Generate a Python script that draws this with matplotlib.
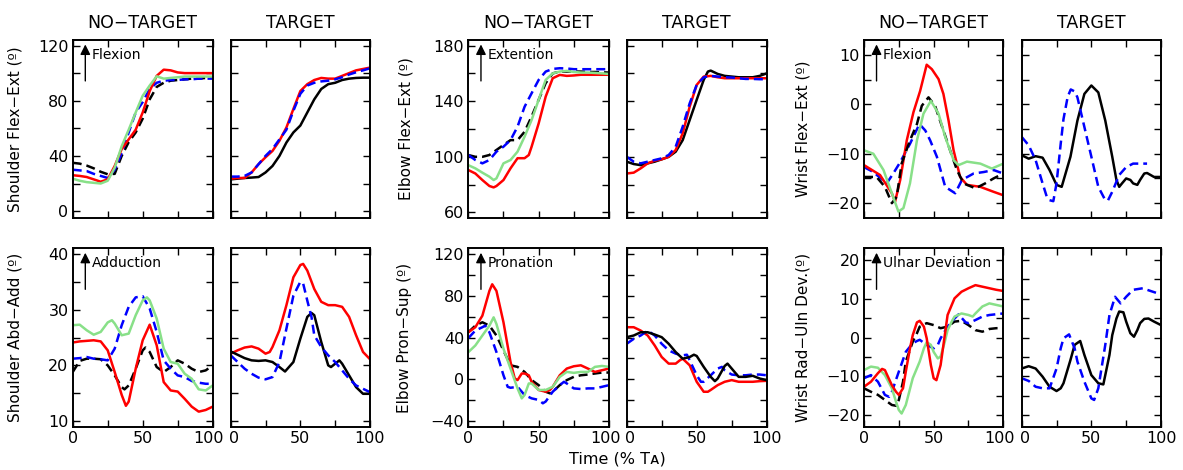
import matplotlib
matplotlib.use('Agg')
import matplotlib.pyplot as plt
import matplotlib.transforms as mtransforms

# ---------------- DATA ----------------
col_titles = ['NO\u2212TARGET', 'TARGET']
row_ylabels = [['Shoulder Flex\u2212Ext (\u00ba)', 'Elbow Flex\u2212Ext (\u00ba)', 'Wrist Flex\u2212Ext (\u00ba)'],
               ['Shoulder Abd\u2212Add (\u00ba)', 'Elbow Pron\u2212Sup (\u00ba)', 'Wrist Rad\u2212Uln Dev.(\u00ba)']]
annotations = [['Flexion', 'Extention', 'Flexion'],
               ['Adduction', 'Pronation', 'Ulnar Deviation']]
x_label = 'Time (% T\u1d00)'
x_ticks = [0, 25, 50, 75, 100]
x_ticklabels = ['0', '', '50', '', '100']

X5 = [0, 5, 10, 15, 20, 25, 30, 35, 40, 45, 50, 55, 60, 65, 70, 75, 80, 85, 90, 95, 100]

# Shoulder Flex-Ext
sfe_nt_black_y = [35, 34.4, 33, 31, 28.5, 26.7, 27, 40, 50, 57, 67, 81, 90, 93, 94.5, 95, 95.5, 96, 96, 96.5, 97]
sfe_nt_blue_y = [30, 29.5, 29, 27, 25.5, 24, 30, 42, 57, 71.5, 79, 88.5, 93, 94.5, 95, 95, 95.5, 95.5, 96, 96, 96]
sfe_nt_red_y = [26, 25.5, 24.7, 23, 21.3, 23, 32.7, 45, 52, 59, 71.5, 87, 98, 102.5, 102, 100.5, 100, 100, 100, 100, 100]
sfe_nt_green_y = [23.5, 22, 21, 20.5, 20, 22, 31.5, 47, 59, 71.5, 83.6, 91, 97.7, 96, 96.5, 97, 97.5, 97.5, 97.5, 97.5, 97.5]
sfe_t_red_y = [23.5, 24, 24, 28, 34, 39, 43.6, 51, 60.6, 74, 87, 92, 95, 96.5, 96, 96, 98, 100, 102, 103, 104]
sfe_t_blue_y = [25, 25, 25.5, 28, 34, 40, 45, 52, 59, 72.7, 85, 91, 93, 94, 94.5, 95.5, 97, 99, 100.6, 102, 103.5]
sfe_t_black_y = [23, 23.5, 24, 24.3, 24.7, 28, 32.7, 40, 49.7, 57, 62, 71.5, 81, 88.5, 92, 93, 95, 96, 96.5, 96.7, 96.7]

# Shoulder Abd-Add
saa_nt_red_x = [0, 5, 10, 15, 20, 25, 30, 35, 38, 40, 45, 50, 55, 60, 65, 70, 75, 80, 85, 90, 95, 100]
saa_nt_red_y = [24.1, 24.3, 24.4, 24.5, 24.3, 22.7, 18.8, 14.7, 12.75, 13.5, 19.4, 24.5, 27.3, 23.6, 17, 15.5, 15.3, 14, 12.6, 11.7, 12, 12.6]
saa_nt_blue_y = [21.2, 21.3, 21.5, 21.2, 21.1, 20.9, 23, 27.2, 30.5, 32.2, 32.4, 30.2, 26, 20.9, 19.4, 18.2, 17.9, 17.2, 16.9, 16.7, 16.7]
saa_nt_black_x = [0, 3, 5, 10, 15, 20, 25, 30, 35, 37, 40, 45, 50, 52, 55, 60, 65, 70, 75, 80, 85, 90, 95, 100]
saa_nt_black_y = [18.8, 20, 20.8, 21.2, 21.2, 21.1, 20, 18.2, 16.1, 15.7, 16.4, 19.4, 22.7, 23.2, 22.4, 19.7, 18.8, 19.7, 20.9, 20.3, 19.4, 18.8, 19.1, 20]
saa_nt_green_x = [0, 5, 10, 15, 20, 25, 28, 30, 35, 40, 45, 50, 53, 55, 60, 65, 70, 75, 80, 85, 90, 95, 100]
saa_nt_green_y = [27.2, 27.3, 26.3, 25.5, 26, 27.7, 28.1, 27.5, 25.4, 25.7, 29, 31.65, 32.2, 31.65, 28.4, 23, 20.6, 20.3, 18.5, 17.6, 15.7, 15.5, 16.4]
saa_t_red_x = [0, 5, 10, 15, 20, 25, 28, 30, 35, 40, 45, 50, 52, 55, 60, 65, 70, 75, 80, 85, 90, 95, 100]
saa_t_red_y = [22.1, 22.7, 23.2, 23.4, 23, 22.1, 22.4, 23.3, 26.3, 30.8, 35.8, 38, 38.2, 37, 33.7, 31.4, 30.8, 30.8, 30.5, 28.7, 25.4, 22.4, 21.1]
saa_t_blue_x = [0, 5, 10, 15, 20, 25, 30, 35, 40, 45, 50, 52, 55, 58, 60, 65, 70, 75, 80, 85, 90, 95, 100]
saa_t_blue_y = [21.8, 20.6, 19.4, 18.5, 17.8, 17.5, 17.9, 20.6, 26.6, 32.5, 35, 34.7, 31.6, 28.7, 25.4, 23.3, 21.8, 20.6, 19.1, 17.6, 16.4, 15.8, 15.2]
saa_t_black_x = [0, 5, 10, 15, 20, 25, 30, 35, 39, 45, 50, 55, 58, 60, 65, 70, 72, 75, 78, 80, 85, 90, 95, 100]
saa_t_black_y = [22.5, 21.9, 21.3, 20.9, 20.8, 20.9, 20.6, 19.7, 18.9, 20.6, 24.8, 28.7, 29.4, 29, 24.2, 20, 19.7, 20.3, 20.9, 20.3, 18.2, 16.1, 14.9, 14.9]

# Elbow Flex-Ext
efe_nt_blue_y = [101.3, 97.7, 95.3, 97.7, 103.7, 107.3, 112, 121.7, 136, 145.7, 155.3, 161.3, 163.2, 163.7, 163.5, 163, 163, 163, 163, 163, 163]
efe_nt_black_y = [101.3, 100, 100, 101.3, 104.9, 108.5, 112, 112, 118, 129, 141, 153, 160, 161.3, 161.3, 161.3, 161.3, 161, 161, 160.8, 160.6]
efe_nt_red_x = [0, 5, 10, 15, 18, 20, 25, 30, 35, 40, 43, 45, 50, 55, 60, 65, 70, 75, 80, 85, 90, 95, 100]
efe_nt_red_y = [90.5, 88, 83.3, 79, 78, 79, 83.3, 91.7, 99, 99, 101.3, 107.3, 124, 143.3, 156.5, 158.9, 158.2, 158.5, 159, 159, 159, 159, 159]
efe_nt_green_x = [0, 5, 10, 15, 18, 20, 25, 30, 35, 40, 45, 50, 55, 60, 65, 70, 75, 80, 85, 90, 95, 100]
efe_nt_green_y = [94, 91.7, 88.6, 85.7, 83.3, 84.5, 95.3, 97.7, 103.7, 114.5, 126.5, 141, 155.3, 160, 161.3, 161.8, 161, 160.6, 160.6, 160.3, 160, 159.6]
efe_t_red_y = [88, 88.6, 91.7, 95.3, 97.2, 98.2, 100, 104.9, 116.9, 136.1, 151.7, 157.7, 158.2, 157.2, 156.5, 156.5, 156.5, 156.5, 156.5, 156.5, 156.5]
efe_t_blue_y = [100, 96.5, 95.3, 96.5, 97.7, 98.9, 101.3, 107.3, 121.7, 138.5, 151.7, 157.2, 158.2, 157.7, 157.2, 157, 156.5, 156, 156, 155.8, 155.8]
efe_t_black_x = [0, 5, 10, 15, 20, 25, 30, 35, 40, 45, 50, 55, 58, 60, 65, 70, 75, 80, 85, 90, 95, 100]
efe_t_black_y = [96.5, 94.8, 94, 95.3, 96.5, 98.2, 100, 103.7, 112, 126.5, 141, 155.3, 161.3, 162, 159.6, 158.2, 157.7, 157.2, 157.2, 157.2, 158.2, 160]

# Elbow Pron-Sup
eps_nt_red_x = [0, 5, 10, 15, 17, 20, 25, 30, 33, 35, 38, 40, 43, 45, 50, 55, 58, 60, 65, 70, 75, 80, 85, 90, 95, 100]
eps_nt_red_y = [45, 49.8, 60.8, 84.4, 90.7, 84.4, 54.5, 16.7, 1, -0.6, 5.7, 5.7, 4, -2.2, -10, -11.7, -10, -7, 4, 10.4, 12.6, 13.5, 10.4, 7.2, 8.8, 10.4]
eps_nt_green_x = [0, 5, 10, 15, 18, 20, 25, 30, 35, 38, 40, 43, 45, 50, 55, 60, 65, 70, 75, 80, 85, 90, 95, 100]
eps_nt_green_y = [26, 32.4, 41.9, 51.3, 59.2, 52.9, 29.3, 10.4, -8.5, -18, -14.8, -3.8, -3.8, -10, -10, -7, 2.5, 7.2, 6.3, 7.2, 7.2, 12, 12.9, 12]
eps_nt_black_x = [0, 5, 10, 15, 20, 25, 30, 35, 40, 45, 50, 55, 58, 60, 65, 70, 75, 80, 85, 90, 95, 100]
eps_nt_black_y = [45, 51.3, 54.5, 51.3, 41.9, 27.7, 13.5, 12, 7.2, -0.6, -5.4, -11.7, -13.2, -11.7, -5.4, -0.6, 2.5, 4, 4.7, 5.7, 6.6, 6.6]
eps_nt_blue_x = [0, 5, 10, 12, 15, 20, 25, 28, 30, 35, 40, 45, 50, 53, 55, 60, 65, 68, 70, 75, 80, 85, 90, 95, 100]
eps_nt_blue_y = [39.4, 46.6, 49.8, 51.3, 45, 26.1, 4, -7, -7.9, -7, -14.8, -18, -19.5, -22.7, -21, -11.7, -5.4, -2.2, -3.8, -8.5, -9.1, -8.5, -8.5, -7, -5.4]
eps_t_red_x = [0, 5, 10, 15, 20, 25, 30, 35, 38, 40, 45, 50, 55, 58, 60, 65, 70, 75, 80, 85, 90, 95, 100]
eps_t_red_y = [49.8, 49.8, 46.6, 41.9, 32.4, 21.4, 15.1, 15.1, 18.3, 19.8, 13.5, -2.2, -11.7, -11.7, -10, -5.4, -2.2, -0.6, -2.2, -2.2, -2.2, -1.6, -1.3]
eps_t_blue_x = [0, 5, 10, 15, 20, 25, 30, 35, 40, 43, 45, 50, 53, 55, 60, 65, 68, 70, 75, 80, 85, 90, 95, 100]
eps_t_blue_y = [34, 38.7, 41.9, 46.6, 41.9, 34, 27.7, 24.6, 23, 23.6, 18.3, 4, -2.2, -2.2, 4, 10.4, 12, 8.8, 4.7, 4, 4, 4.7, 4.7, 4]
eps_t_black_x = [0, 5, 10, 15, 20, 25, 30, 35, 40, 45, 48, 50, 55, 60, 63, 65, 70, 72, 75, 80, 85, 90, 95, 100]
eps_t_black_y = [40.3, 41.9, 45, 45, 42.8, 40.3, 34, 26.1, 19.8, 21.4, 23.6, 22.4, 12, 2.5, -1.6, 0.9, 12.9, 15.1, 10.4, 2.5, 2.5, 3.5, 0.9, -0.6]

# Wrist Flex-Ext
wfe_nt_red_x = [0, 11.5, 20, 22.3, 26, 30.7, 35.5, 40.3, 45, 48.7, 53.5, 57, 60.7, 64.3, 69, 73.9, 83.5, 93, 100]
wfe_nt_red_y = [-12.3, -14.3, -18, -19.7, -15.3, -7.3, -1.6, 2.7, 8, 7.1, 5.1, 2.1, -3.3, -9.3, -14.7, -16.3, -16.7, -17.7, -18.4]
wfe_nt_black_x = [0, 9, 15, 20, 23.5, 27, 33, 38, 41.5, 46.3, 51, 57, 61.8, 66.7, 71.5, 80, 87, 93, 100]
wfe_nt_black_y = [-14.7, -14.7, -16.7, -20, -18.7, -12, -7.3, -4, -0.3, 1.4, -0.3, -5.3, -9.3, -13.3, -16, -17, -16, -15, -14]
wfe_nt_blue_x = [0, 6.7, 16.3, 21, 26, 33, 39.8, 44, 47.5, 52.3, 58.3, 65.5, 70.3, 78.7, 86, 93, 100]
wfe_nt_blue_y = [-12.7, -13.7, -16, -14, -11.7, -8, -4, -5.3, -7.3, -10.6, -16.7, -18, -15.3, -14, -13.7, -13.3, -14]
wfe_nt_green_x = [0, 6.7, 14, 20, 24.7, 28.3, 33, 38, 42.7, 48, 53.5, 58.3, 64.3, 67.9, 73.9, 83.5, 91.8, 100]
wfe_nt_green_y = [-9.3, -10, -13.3, -18, -21.7, -21, -16, -7.3, -1.9, 0.7, -1.9, -6.6, -11.3, -12.3, -11.6, -12, -13, -12]
wfe_t_black_x = [0, 5, 10, 15, 20, 25, 28.7, 35, 40, 45, 50, 55, 60, 65, 68, 70, 72, 75, 78, 80, 83, 85, 88, 90, 95, 100]
wfe_t_black_y = [-10.3, -11, -10.5, -10.8, -13.3, -16.3, -16.7, -10.6, -3.3, 2.1, 3.8, 2.4, -3.3, -10.6, -15.3, -16.7, -16, -15, -15.3, -16, -16.3, -15.3, -14, -13.9, -14.7, -14.7]
wfe_t_blue_x = [0, 5, 10, 15, 18, 20, 22.7, 25, 28, 30, 33, 35.2, 38, 40, 45, 50, 55, 60, 62, 65, 70, 75, 80, 85, 90]
wfe_t_blue_y = [-6.6, -8.3, -11.3, -16, -18.7, -19.4, -19.6, -16, -8, -3, 1.5, 3, 2.6, 1.4, -4.6, -10.6, -16.7, -19.4, -19.4, -17.7, -14.3, -12.7, -12, -12, -12]

# Wrist Rad-Uln Dev
wru_nt_red_x = [0, 5, 10, 13, 15, 20, 23, 25, 28, 30, 33, 35, 38, 40, 43, 45, 48, 50, 52, 55, 58, 60, 63, 65, 70, 75, 80, 85, 90, 95, 100]
wru_nt_red_y = [-12.7, -11.4, -9.2, -8.1, -8.4, -12.3, -14, -14.8, -13.1, -8.8, -2.8, 0.6, 3.9, 4.3, 2.8, -0.2, -7.1, -10.5, -11, -7.1, 0.6, 5.8, 8.4, 10.1, 11.8, 12.7, 13.5, 13.1, 12.7, 12.3, 12]
wru_nt_green_x = [0, 5, 10, 15, 20, 23, 25, 27, 30, 35, 40, 43, 45, 48, 50, 53, 55, 58, 60, 63, 65, 70, 75, 78, 80, 85, 90, 95, 100]
wru_nt_green_y = [-8.4, -7.5, -7.8, -9.7, -13.1, -16.6, -18.7, -19.6, -17.4, -10.5, -6.2, -2.8, -1.2, -1.9, -3.7, -5.4, -4.9, -1.1, 1.9, 4.1, 5.4, 6.2, 5.8, 5.4, 6.2, 8, 8.8, 8.4, 8]
wru_nt_black_x = [0, 5, 10, 15, 20, 23, 25, 28, 30, 35, 38, 40, 45, 50, 55, 60, 65, 70, 75, 80, 85, 90, 95, 100]
wru_nt_black_y = [-13.1, -14, -14.8, -16.1, -17.4, -17.6, -16.1, -11.4, -6.2, -1.1, 1.1, 2.8, 3.7, 3.2, 2.4, 2.8, 4.1, 4.3, 3.2, 1.9, 1.5, 2.2, 2.4, 2.4]
wru_nt_blue_x = [0, 5, 10, 15, 18, 20, 25, 30, 35, 38, 40, 45, 50, 53, 55, 60, 65, 68, 70, 73, 75, 80, 85, 90, 95, 100]
wru_nt_blue_y = [-10.5, -9.7, -11.4, -14.8, -15.3, -14, -8.8, -3.7, -1.5, -0.9, -0.6, -1.9, -2.8, -1.9, -0.2, 2.8, 4.9, 6, 5.1, 3.9, 3.7, 4.5, 5.4, 5.8, 6, 6.2]
wru_t_black_x = [0, 5, 10, 15, 20, 25, 28, 30, 35, 38, 42, 45, 50, 55, 58.6, 60, 63, 65, 68, 70, 73, 75, 78, 80.6, 83, 85, 88, 91, 95, 100]
wru_t_black_y = [-8, -7.4, -8, -10.1, -12.7, -13.8, -13.1, -11.8, -5.8, -1.9, -0.9, -4.5, -9.7, -11.8, -12.1, -9.7, -4.5, 0.6, 4.9, 6.7, 6.5, 4.1, 1.1, 0.2, 1.9, 3.7, 4.8, 4.9, 4.1, 3.2]
wru_t_blue_x = [0, 5, 10, 15, 20, 25, 28, 30, 34, 38, 40, 45, 50, 52, 55, 60, 63, 67, 71, 75, 80, 87, 90, 95, 100]
wru_t_blue_y = [-10.5, -11.2, -12.7, -13.1, -13.1, -8, -2.8, -0.2, 0.8, -2.8, -6.2, -11.4, -15.7, -16.1, -13.1, -1.9, 5.8, 10.5, 8.8, 10.5, 12.3, 12.7, 12.3, 11.7, 11.1]

# axis ranges / ticks per panel (row, group)
y_limits = [[(-5, 124), (56, 184), (-23, 13)],
            [(9, 41), (-45, 125), (-23, 23)]]
y_major = [[[0, 20, 40, 60, 80, 100, 120], [60, 80, 100, 120, 140, 160, 180], [-20, -15, -10, -5, 0, 5, 10]],
           [[10, 15, 20, 25, 30, 35, 40], [-40, -20, 0, 20, 40, 60, 80, 100, 120], [-20, -15, -10, -5, 0, 5, 10, 15, 20]]]
y_labeled = [[[0, 40, 80, 120], [60, 100, 140, 180], [-20, -10, 0, 10]],
             [[10, 20, 30, 40], [-40, 0, 40, 80, 120], [-20, -10, 0, 10, 20]]]

# ---------------- STYLE / LAYOUT ----------------
BLACK = '#000000'
BLUE = '#0000ff'
RED = '#ff0000'
GREEN = '#88e088'
DASH = (0, (3.6, 2.0))
LW = 1.8

plt.rcParams['font.family'] = ['DejaVu Sans']

fig = plt.figure(figsize=(11.83, 4.70), dpi=100)

group_lefts = [(72.7, 230.7), (468.3, 626.7), (864.0, 1021.7)]
widths = [(140.0, 139.3), (140.7, 140.0), (139.3, 139.3)]
row_tb = [(40.0, 218.0), (248.3, 426.7)]
ylabel_x = [[-0.362, -0.391, -0.383], [-0.362, -0.402, -0.387]]

W, H = 1183.0, 470.0
axes = {}
for r in range(2):
    for g in range(3):
        for c in range(2):
            l = group_lefts[g][c]
            w = widths[g][c]
            t, b = row_tb[r]
            ax = fig.add_axes([l / W, 1 - b / H, w / W, (b - t) / H])
            axes[(r, g, c)] = ax


def ms(ax, x, y, color, dashed=False):
    ax.plot(x, y, color=color, lw=LW, linestyle=DASH if dashed else '-',
            solid_capstyle='round', solid_joinstyle='round', dash_capstyle='butt')


# Shoulder Flex
ax = axes[(0, 0, 0)]
ms(ax, X5, sfe_nt_black_y, BLACK, True)
ms(ax, X5, sfe_nt_blue_y, BLUE, True)
ms(ax, X5, sfe_nt_red_y, RED)
ms(ax, X5, sfe_nt_green_y, GREEN)
ax = axes[(0, 0, 1)]
ms(ax, X5, sfe_t_black_y, BLACK)
ms(ax, X5, sfe_t_red_y, RED)
ms(ax, X5, sfe_t_blue_y, BLUE, True)

# Shoulder Abd
ax = axes[(1, 0, 0)]
ms(ax, saa_nt_black_x, saa_nt_black_y, BLACK, True)
ms(ax, X5, saa_nt_blue_y, BLUE, True)
ms(ax, saa_nt_green_x, saa_nt_green_y, GREEN)
ms(ax, saa_nt_red_x, saa_nt_red_y, RED)
ax = axes[(1, 0, 1)]
ms(ax, saa_t_red_x, saa_t_red_y, RED)
ms(ax, saa_t_black_x, saa_t_black_y, BLACK)
ms(ax, saa_t_blue_x, saa_t_blue_y, BLUE, True)

# Elbow Flex
ax = axes[(0, 1, 0)]
ms(ax, X5, efe_nt_black_y, BLACK, True)
ms(ax, X5, efe_nt_blue_y, BLUE, True)
ms(ax, efe_nt_red_x, efe_nt_red_y, RED)
ms(ax, efe_nt_green_x, efe_nt_green_y, GREEN)
ax = axes[(0, 1, 1)]
ms(ax, efe_t_black_x, efe_t_black_y, BLACK)
ms(ax, X5, efe_t_red_y, RED)
ms(ax, X5, efe_t_blue_y, BLUE, True)

# Elbow Pron
ax = axes[(1, 1, 0)]
ms(ax, eps_nt_black_x, eps_nt_black_y, BLACK, True)
ms(ax, eps_nt_blue_x, eps_nt_blue_y, BLUE, True)
ms(ax, eps_nt_red_x, eps_nt_red_y, RED)
ms(ax, eps_nt_green_x, eps_nt_green_y, GREEN)
ax = axes[(1, 1, 1)]
ms(ax, eps_t_red_x, eps_t_red_y, RED)
ms(ax, eps_t_blue_x, eps_t_blue_y, BLUE, True)
ms(ax, eps_t_black_x, eps_t_black_y, BLACK)

# Wrist Flex
ax = axes[(0, 2, 0)]
ms(ax, wfe_nt_blue_x, wfe_nt_blue_y, BLUE, True)
ms(ax, wfe_nt_red_x, wfe_nt_red_y, RED)
ms(ax, wfe_nt_black_x, wfe_nt_black_y, BLACK, True)
ms(ax, wfe_nt_green_x, wfe_nt_green_y, GREEN)
ax = axes[(0, 2, 1)]
ms(ax, wfe_t_black_x, wfe_t_black_y, BLACK)
ms(ax, wfe_t_blue_x, wfe_t_blue_y, BLUE, True)

# Wrist Rad-Uln
ax = axes[(1, 2, 0)]
ms(ax, wru_nt_black_x, wru_nt_black_y, BLACK, True)
ms(ax, wru_nt_blue_x, wru_nt_blue_y, BLUE, True)
ms(ax, wru_nt_green_x, wru_nt_green_y, GREEN)
ms(ax, wru_nt_red_x, wru_nt_red_y, RED)
ax = axes[(1, 2, 1)]
ms(ax, wru_t_black_x, wru_t_black_y, BLACK)
ms(ax, wru_t_blue_x, wru_t_blue_y, BLUE, True)


def fmt(v):
    return ('\u2212%d' % -v) if v < 0 else '%d' % v


for (r, g, c), ax in axes.items():
    ax.set_xlim(0, 100)
    ax.set_ylim(*y_limits[r][g])
    ax.set_xticks(x_ticks)
    ax.set_yticks(y_major[r][g])
    ax.tick_params(direction='in', top=True, right=True, length=5, width=1.0,
                   labelsize=11.5, pad=3, colors='black')
    for sp in ax.spines.values():
        sp.set_linewidth(1.4)
    if r == 1:
        ax.set_xticklabels(x_ticklabels)
        labels = ax.get_xticklabels()
        if c == 0:
            off = mtransforms.ScaledTranslation(-4 / 100, 0, fig.dpi_scale_trans)
            labels[-1].set_transform(labels[-1].get_transform() + off)
        else:
            off = mtransforms.ScaledTranslation(3 / 100, 0, fig.dpi_scale_trans)
            labels[0].set_transform(labels[0].get_transform() + off)
    else:
        ax.set_xticklabels([])
    if c == 0:
        ax.set_yticklabels([fmt(v) if v in y_labeled[r][g] else '' for v in y_major[r][g]])
        ax.set_ylabel(row_ylabels[r][g], fontsize=11)
        ax.yaxis.set_label_coords(ylabel_x[r][g], 0.5)
        ax.annotate('', xy=(0.09, 0.975), xytext=(0.09, 0.77), xycoords='axes fraction',
                    arrowprops=dict(arrowstyle='-|>', color='black', lw=1.0,
                                    mutation_scale=15, shrinkA=0, shrinkB=0))
        ax.text(0.135, 0.915, annotations[r][g], transform=ax.transAxes,
                fontsize=10, va='center', ha='left')
    else:
        ax.set_yticklabels([])
    if r == 0:
        ax.set_title(col_titles[c], fontsize=12.5, pad=9)

fig.text(617 / W, 1 - 459 / H, x_label, fontsize=11.5, ha='center', va='center')

fig.savefig('out.png', dpi=100)
